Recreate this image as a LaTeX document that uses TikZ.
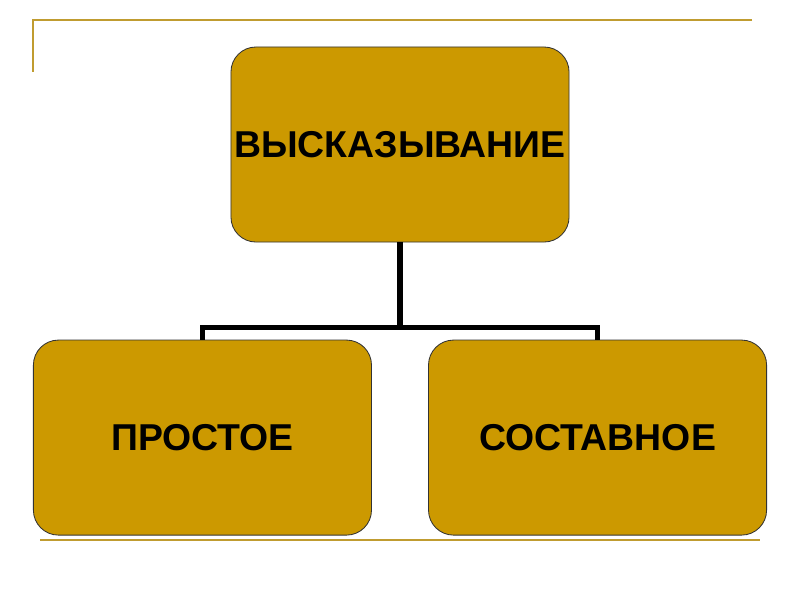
\documentclass[tikz,border=0pt]{standalone}
\usepackage{fontspec}
\setmainfont{Liberation Sans}
\usetikzlibrary{positioning}
\definecolor{boxgold}{RGB}{204,153,0}
\definecolor{rulegold}{RGB}{192,156,48}

\begin{document}
\begin{tikzpicture}[x=0.025cm, y=-0.025cm,
          treenode/.style = {align=center, inner sep=0pt, text centered,
            font=\fontsize{26.6}{32}\selectfont\bfseries},
          stmt/.style = {treenode, rectangle, rounded corners=0.625cm, draw=black!80, line width=0.6pt,
            fill=boxgold, minimum width=8.45cm, minimum height=4.875cm},
          level/.style={sibling distance = 9.875cm, level distance = 7.325cm},
          edge from parent/.style={draw, black, line width=4pt},
          edge from parent path={(\tikzparentnode.south) -- ++(0,-2.125cm) -| (\tikzchildnode.north)}]
        \useasboundingbox (0,0) rectangle (800,600);
        % slide rules
        \draw [rulegold, line width=2pt] (752,20) -- (33,20) -- (33,72);
        \draw [rulegold, line width=1.5pt] (40,540) -- (760,540);
        % tree
        \node [stmt] (stmt) at (400,144.5) {ВЫСКАЗЫВАНИЕ}
            child {node [stmt] (simple) {ПРОСТОЕ}}
            child {node [stmt] (compound) {СОСТАВНОЕ}}
        ;
\end{tikzpicture}
\end{document}
